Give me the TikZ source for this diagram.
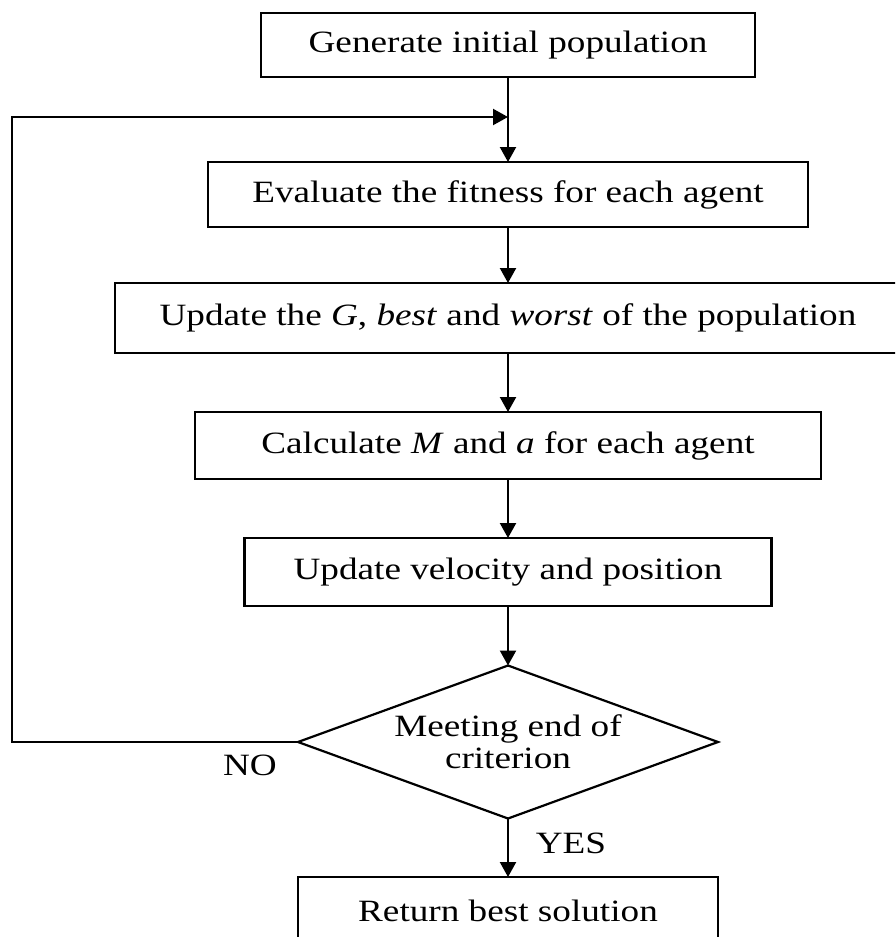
\documentclass[tikz,border=0pt]{standalone}
\usepackage{fontspec}
\setmainfont{Liberation Serif}[FakeStretch=1.2]
\usetikzlibrary{shapes.geometric,arrows.meta}
\begin{document}
\begin{tikzpicture}[x=1pt,y=-1pt,
  every node/.style={font=\fontsize{31}{32}\selectfont},
  procbox/.style={draw,line width=2.2pt,rectangle,inner sep=0pt,outer sep=0pt,align=center},
  decbox/.style={draw,line width=2.2pt,diamond,aspect=2.745,inner sep=0pt,outer sep=0pt,
     minimum width=420pt,minimum height=153pt,align=center},
  conn/.style={line width=2.2pt,-{Triangle[length=15pt,width=16pt]}}]
\useasboundingbox (0,0) rectangle (895,937);
\clip (0,0) rectangle (895,937);
\node[procbox,minimum width=494pt,minimum height=64pt] (gen) at (508,45) {Generate initial population};
\node[procbox,minimum width=600pt,minimum height=65pt] (eval) at (508,194.5) {Evaluate the fitness for each agent};
\node[procbox,minimum width=786pt,minimum height=70pt] (upd) at (508,318) {Update the \textit{G}, \textit{best} and \textit{worst} of the population};
\node[procbox,minimum width=626pt,minimum height=67pt] (calc) at (508,445.5) {Calculate \textit{M} and \textit{a} for each agent};
\node[procbox,minimum width=527pt,minimum height=68pt] (vel) at (508,572) {Update velocity and position};
\node[decbox] (dec) at (508,742) {Meeting end of\\criterion};
\node[procbox,minimum width=420pt,minimum height=67pt] (ret) at (508,910.5) {Return best solution};
\node (no) at (250,765) {NO};
\node (yes) at (571,843) {YES};
\coordinate (lft1) at (12,742);
\coordinate (lft2) at (12,117);
\coordinate (join) at (508,117);
\draw[conn] (gen) -- (eval);
\draw[conn] (eval) -- (upd);
\draw[conn] (upd) -- (calc);
\draw[conn] (calc) -- (vel);
\draw[conn] (vel) -- (dec);
\draw[conn] (dec) -- (ret);
\draw[conn] (dec.west) -- (lft1) -- (lft2) -- (join);
\end{tikzpicture}
\end{document}
